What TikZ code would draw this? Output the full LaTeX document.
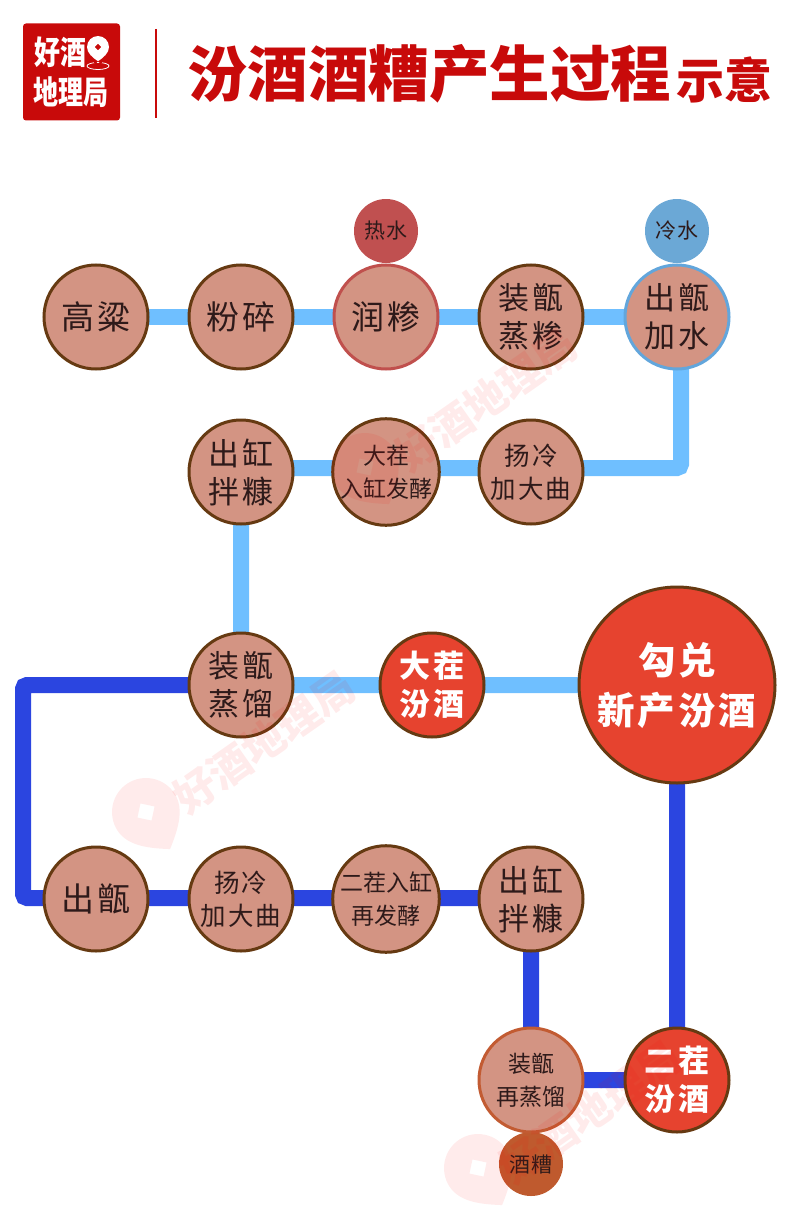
\documentclass[tikz,border=0pt]{standalone}
\usepackage{fontspec}
\setmainfont{Noto Sans CJK SC}
\newfontfamily\cjkwide[LetterSpace=8]{Noto Sans CJK SC}
\usetikzlibrary{backgrounds}

\definecolor{stepfill}{HTML}{D39483}
\definecolor{stepline}{HTML}{663A12}
\definecolor{winered}{HTML}{E6432F}
\definecolor{lightline}{HTML}{6FBFFF}
\definecolor{darkline}{HTML}{2B45E0}
\definecolor{logored}{HTML}{C80A0A}
\definecolor{inktext}{HTML}{2E1A1A}
\definecolor{hotwater}{HTML}{C05050}
\definecolor{hotline}{HTML}{C0504D}
\definecolor{coldwater}{HTML}{6BA8D6}
\definecolor{coldline}{HTML}{62A6DC}
\definecolor{leesfill}{HTML}{BF5A2E}
\definecolor{leesline}{HTML}{C25B32}

\tikzset{
    stepnode/.style={circle, draw=stepline, fill=stepfill, line width=3pt, minimum size=104pt, inner sep=0pt,
        align=center, text=inktext, font=\cjkwide\fontsize{31}{38}\selectfont},
    stepsingle/.style={stepnode, font=\cjkwide\fontsize{33}{38}\selectfont},
    stepsmall/.style={stepnode, font=\cjkwide\fontsize{25.5}{33}\selectfont},
    stepfine/.style={stepnode, font=\fontsize{23}{33}\selectfont},
    winenode/.style={stepnode, fill=winered, text=white, font=\cjkwide\bfseries\fontsize{31}{38}\selectfont},
    addnode/.style={circle, minimum size=64pt, inner sep=0pt, text=inktext,
        font=\cjkwide\fontsize{21}{24}\selectfont},
    lightpipe/.style={draw=lightline, line width=16pt, rounded corners=4pt},
    darkpipe/.style={draw=darkline, line width=16pt, rounded corners=4pt},
    markmain/.style={font=\bfseries\fontsize{42}{42}\selectfont, text=red, opacity=0.08},
    droppin/.pic={
        \path[pic actions, even odd rule] (0,1.3) .. controls (-.5,.95) and (-1,.55) .. (-1,0)
            .. controls (-1,-.55) and (-.55,-1) .. (0,-1)
            .. controls (.55,-1) and (1,-.55) .. (1,0)
            .. controls (1,.55) and (.5,.95) .. (0,1.3) -- cycle
            (0,-.3) -- (.3,0) -- (0,.3) -- (-.3,0) -- cycle;
    }
}

\begin{document}
\begin{tikzpicture}[x=1pt, y=-1pt]
    \useasboundingbox (0,0) rectangle (800,1217);

    % header
    \node[fill=logored, rounded corners=3pt, minimum size=97pt, inner sep=0pt] (logo) at (71.5,72) {};
    \node[text=white, font=\bfseries\fontsize{26}{26}\selectfont, yscale=1.25, transform shape, inner sep=0pt] (logotop) at (60,52) {好酒};
    \node[text=white, font=\bfseries\fontsize{25}{25}\selectfont, yscale=1.3, transform shape, inner sep=0pt] (logobottom) at (71,92) {地理局};
    \pic[fill=white, scale=11] (logopin) at (98,47) {droppin};
    \draw[white, line width=0.8pt] (98,66) ellipse (11 and 3.5);
    \draw[logored, line width=2.2pt] (93.5,60) -- (98,66) -- (102.5,60);
    \draw[logored, line width=2pt] (156,29) -- (156,118);
    \node[text=logored, font=\bfseries\fontsize{60.5}{62}\selectfont, inner sep=0pt, anchor=west] (title) at (187,74) {汾酒酒糟产生过程};
    \node[text=logored, font=\bfseries\fontsize{48}{50}\selectfont, inner sep=0pt, anchor=west] (titleend) at (676,80) {示意};

    % additions
    \node[addnode, fill=hotwater] (hot) at (386,231) {热水};
    \node[addnode, fill=coldwater] (cold) at (677,231) {冷水};
    \node[addnode, fill=leesfill] (lees) at (531,1164) {酒糟};

    % first round
    \node[stepsingle] (sorghum) at (96,317) {高粱};
    \node[stepsingle] (crush) at (241,317) {粉碎};
    \node[stepsingle, draw=hotline] (soak) at (386,317) {润糁};
    \node[stepnode] (steamgrain) at (531,317) {装甑\\蒸糁};
    \node[stepnode, draw=coldline] (outwater) at (677,317) {出甑\\加水};
    \node[stepnode] (outjar) at (241,472) {出缸\\拌糠};
    \node[stepfine] (firstjar) at (386,472) {大茬\\入缸发酵};
    \node[stepsmall] (coolfirst) at (531,472) {扬冷\\加大曲};
    \node[stepnode] (steamfirst) at (241,685) {装甑\\蒸馏};
    \node[winenode] (firstwine) at (432,685) {大茬\\汾酒};
    \node[winenode, minimum size=196pt, font=\cjkwide\bfseries\fontsize{37.5}{50}\selectfont] (blend) at (677,685) {勾兑\\新产汾酒};

    % second round
    \node[stepsingle] (outsteam) at (96,899) {出甑};
    \node[stepsmall] (coolsecond) at (241,899) {扬冷\\加大曲};
    \node[stepfine] (secondjar) at (386,899) {二茬入缸\\再发酵};
    \node[stepnode] (outjartwo) at (531,899) {出缸\\拌糠};
    \node[stepfine, draw=leesline] (steamsecond) at (531,1080) {装甑\\再蒸馏};
    \node[winenode] (secondwine) at (677,1080) {二茬\\汾酒};

    \coordinate (turnwater) at (681,468);
    \coordinate (turntop) at (23,685);
    \coordinate (turnbottom) at (23,898);

    \begin{scope}[on background layer]
        \path[lightpipe] (sorghum.center) -- (crush.center) -- (soak.center) -- (steamgrain.center) -- (outwater.center);
        \path[lightpipe] (turnwater |- outwater) -- (turnwater) -- (outjar |- turnwater);
        \path[lightpipe] (outjar.center) -- (steamfirst.center) -- (firstwine.center) -- (blend.center);
        \path[darkpipe] (steamfirst.center) -- (turntop) -- (turnbottom) -- (outsteam |- turnbottom) -- (outjartwo |- turnbottom);
        \path[darkpipe] (outjartwo.center) -- (steamsecond.center) -- (secondwine.center) -- (blend.center);
    \end{scope}

    % watermarks
    \begin{scope}[opacity=0.08]
        \pic[fill=red, scale=34, rotate=33] (markpina) at (365,467) {droppin};
        \pic[fill=red, scale=34, rotate=33] (markpinb) at (146,812) {droppin};
        \pic[fill=red, scale=34, rotate=33] (markpinc) at (478,1168) {droppin};
    \end{scope}
    \node[markmain, rotate=35] (marka) at (486,400) {好酒地理局};
    \node[markmain, rotate=35] (markb) at (264,742) {好酒地理局};
    \node[markmain, rotate=35] (markc) at (590,1112) {好酒地理局};
\end{tikzpicture}
\end{document}
